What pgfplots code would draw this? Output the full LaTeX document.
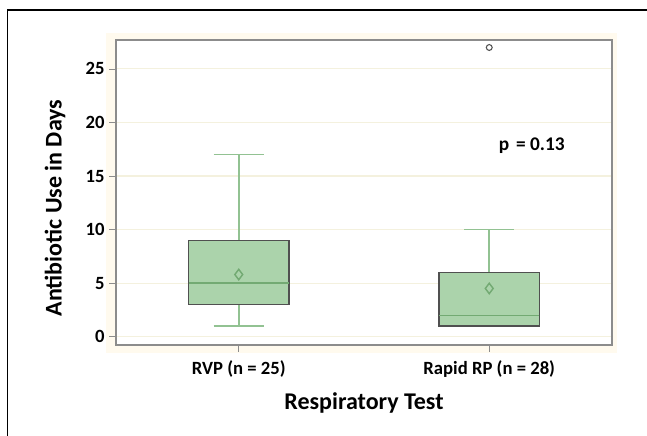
\documentclass[border=0pt]{standalone}
\usepackage{fontspec}
\setmainfont{Carlito}
\usepackage{pgfplots}
\pgfplotsset{compat=1.18}
\usepgfplotslibrary{statistics}
\definecolor{boxfill}{RGB}{171,211,171}
\definecolor{boxedge}{RGB}{80,80,80}
\definecolor{whisk}{RGB}{146,194,146}
\definecolor{med}{RGB}{115,170,115}
\definecolor{cream}{RGB}{255,250,238}
\definecolor{gridc}{RGB}{244,241,222}
\definecolor{axc}{RGB}{140,140,140}
\begin{document}
\begin{tikzpicture}
\useasboundingbox (0,0) rectangle (485.25pt,327pt);
\fill[cream] (79.5pt,62.25pt) rectangle (462.75pt,302.25pt);
\draw[black, line width=1.2pt] (5.625pt,-2pt) -- (5.625pt,319.5pt) -- (490pt,319.5pt);
\begin{axis}[
  at={(87pt,68.25pt)}, anchor=south west,
  scale only axis, width=372pt, height=228.75pt,
  xmin=0.51, xmax=2.49, ymin=-0.78, ymax=27.7,
  boxplot/draw direction=y,
  axis background/.style={fill=white},
  axis line style={draw=axc, line width=1.1pt},
  xtick={1,2}, xticklabels={RVP (n = 25), Rapid RP (n = 28)},
  ytick={0,5,...,25},
  tick style={draw=axc, line width=0.6pt},
  major tick length=5pt,
  tick align=outside, xtick pos=bottom, ytick pos=left,
  ymajorgrids, grid style={draw=gridc, line width=0.8pt},
  tick label style={font=\bfseries\fontsize{14}{14}\selectfont},
  /pgf/number format/assume math mode=true,
  xticklabel style={yshift=-3pt},
  xlabel={Respiratory Test}, ylabel={Antibiotic Use in Days},
  label style={font=\bfseries\fontsize{18}{18}\selectfont},
  ylabel style={at={(axis description cs:-0.123,0.449)}, anchor=center},
  xlabel style={at={(axis description cs:0.5,-0.19)}, anchor=center},
]
\addplot[draw=boxedge, fill=boxfill, line width=1.1pt,
  boxplot prepared={draw position=1, lower whisker=1, lower quartile=3,
    median=5, upper quartile=9, upper whisker=17,
    box extend=0.4, whisker extend=0.2,
    every box/.style={draw=boxedge, fill=boxfill, line width=1.1pt},
    every whisker/.style={draw=whisk, fill=none, line width=1.3pt},
    every median/.style={draw=med, line width=1pt}}]
  coordinates {};
\addplot[draw=boxedge, fill=boxfill, line width=1.1pt,
  boxplot prepared={draw position=2, lower whisker=1, lower quartile=1,
    median=2, upper quartile=6, upper whisker=10,
    box extend=0.4, whisker extend=0.2,
    every box/.style={draw=boxedge, fill=boxfill, line width=1.1pt},
    every whisker/.style={draw=whisk, fill=none, line width=1.3pt},
    every median/.style={draw=med, line width=1pt}}]
  coordinates {};
\addplot[only marks, mark=diamond*, mark size=3.9pt,
  mark options={draw=med, fill=boxfill, line width=1.1pt}]
  coordinates {(1,5.8) (2,4.5)};
\addplot[only marks, mark=o, mark size=2.2pt,
  mark options={draw=boxedge, line width=0.8pt}]
  coordinates {(2,27)};
\node[font=\bfseries\fontsize{14.5}{14.5}\selectfont] at (axis cs:2.17,17.8) {p\hspace{0.35em}= 0.13};
\end{axis}
\end{tikzpicture}
\end{document}
